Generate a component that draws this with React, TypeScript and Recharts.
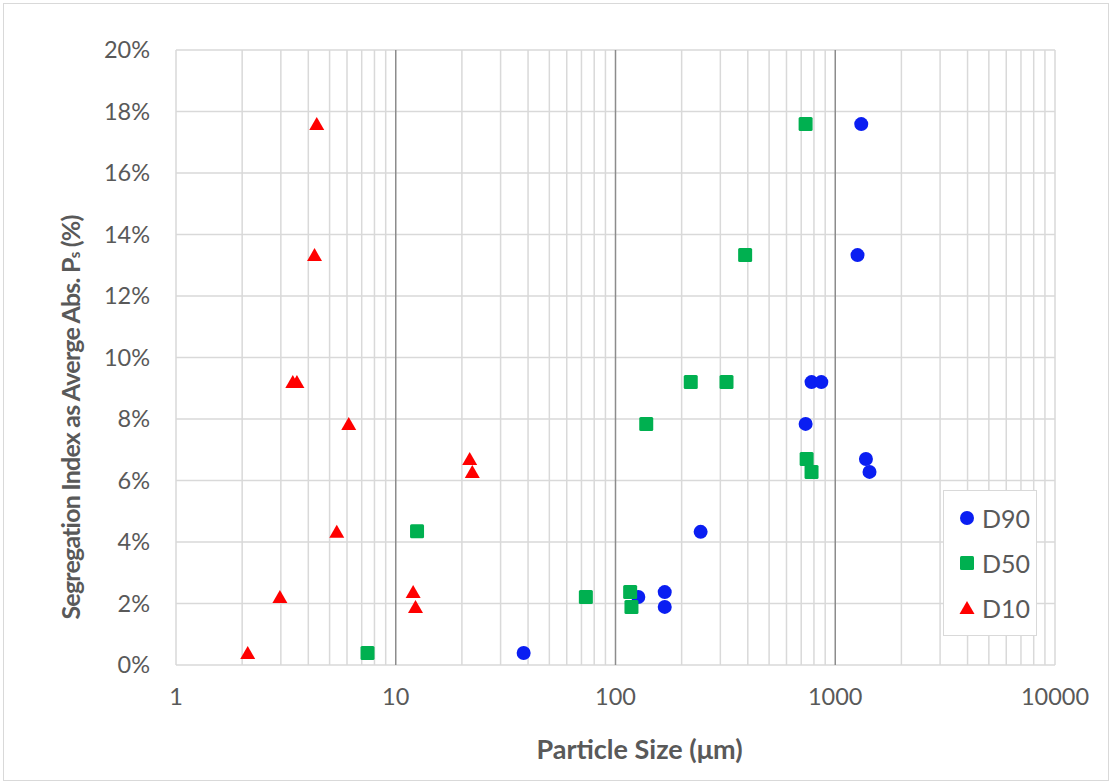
import React from 'react';
import { ScatterChart, Scatter, XAxis, YAxis, CartesianGrid, ReferenceLine, Legend } from 'recharts';

const D90_SIZE = [38.2, 127, 167.5, 167.5, 244, 733, 780, 864, 1263, 1313, 1379, 1432];
const D90_INDEX = [0.39, 2.21, 2.37, 1.89, 4.33, 7.84, 9.2, 9.2, 13.33, 17.59, 6.7, 6.28];
const D50_SIZE = [7.44, 12.5, 73.3, 116.6, 118.2, 138, 220, 320, 389, 733, 741, 780];
const D50_INDEX = [0.39, 4.35, 2.21, 2.37, 1.89, 7.84, 9.2, 9.2, 13.33, 17.59, 6.7, 6.28];
const D10_SIZE = [2.12, 2.97, 3.4, 3.55, 4.27, 4.37, 5.39, 6.11, 12.0, 12.3, 21.7, 22.3];
const D10_INDEX = [0.39, 2.21, 9.2, 9.2, 13.33, 17.59, 4.33, 7.84, 2.37, 1.89, 6.7, 6.28];

const SERIES_NAMES = ['D90', 'D50', 'D10'];
const X_TICKS = [1, 10, 100, 1000, 10000];
const Y_TICKS = [0, 2, 4, 6, 8, 10, 12, 14, 16, 18, 20];
const MINOR_MULT = [2, 3, 4, 5, 6, 7, 8, 9];

const X_TITLE = 'Particle Size (\u03bcm)';
const Y_TITLE_MAIN = 'Segregation Index as Averge Abs. P';
const Y_TITLE_SUB = 's';
const Y_TITLE_END = ' (%)';

const FONT = 'Lato, "Open Sans", sans-serif';
const TEXT = '#595959';
const LIGHT = '#d9d9d9';
const DARK = '#8c8c8c';
const BLUE = '#0a1ef2';
const GREEN = '#00b050';
const RED = '#ff0000';

const toPoints = (xs: number[], ys: number[]) => xs.map((x, i) => ({ x, y: ys[i] }));
const d90 = toPoints(D90_SIZE, D90_INDEX);
const d50 = toPoints(D50_SIZE, D50_INDEX);
const d10 = toPoints(D10_SIZE, D10_INDEX);

const minorX: number[] = [];
X_TICKS.slice(0, -1).forEach((d) => MINOR_MULT.forEach((m) => minorX.push(d * m)));

const Circle = (p: any) => <circle cx={p.cx} cy={p.cy} r={7} fill={BLUE} />;
const Square = (p: any) => <rect x={p.cx - 7} y={p.cy - 7} width={14} height={14} rx={1.5} fill={GREEN} />;
const Triangle = (p: any) => (
  <polygon points={`${p.cx},${p.cy - 7} ${p.cx + 7.5},${p.cy + 6} ${p.cx - 7.5},${p.cy + 6}`} fill={RED} />
);

const markerFor = (name: string) => {
  if (name === 'D90') return <circle cx={8} cy={8} r={7} fill={BLUE} />;
  if (name === 'D50') return <rect x={1} y={1} width={14} height={14} rx={1.5} fill={GREEN} />;
  return <polygon points="8,1 15.5,14 0.5,14" fill={RED} />;
};

const renderLegend = () => (
  <div
    style={{
      width: 94,
      height: 146,
      border: `1.5px solid ${LIGHT}`,
      background: '#fff',
      boxSizing: 'border-box',
      paddingTop: 4,
      fontFamily: FONT,
      fontSize: 25,
      color: TEXT,
    }}
  >
    {SERIES_NAMES.map((n) => (
      <div key={n} style={{ display: 'flex', alignItems: 'center', height: 45, paddingLeft: 15 }}>
        <svg width={16} height={16} style={{ marginRight: 7 }}>
          {markerFor(n)}
        </svg>
        <span>{n}</span>
      </div>
    ))}
  </div>
);

const YTitle = (props: any) => {
  const vb = props.viewBox;
  const cx = vb.x + 70;
  const cy = vb.y + vb.height / 2 + 60;
  return (
    <text
      x={cx}
      y={cy}
      transform={`rotate(-90, ${cx}, ${cy})`}
      textAnchor="middle"
      dominantBaseline="central"
      fontFamily={FONT}
      fontWeight="bold"
      fontSize={25}
      letterSpacing={-0.8}
      fill={TEXT}
    >
      {Y_TITLE_MAIN}
      <tspan fontSize={15} baselineShift="-25%">{Y_TITLE_SUB}</tspan>
      <tspan>{Y_TITLE_END}</tspan>
    </text>
  );
};

const XTitle = (props: any) => {
  const vb = props.viewBox;
  return (
    <text
      x={vb.x + vb.width / 2 + 24}
      y={vb.y + 83}
      textAnchor="middle"
      dominantBaseline="central"
      fontFamily={FONT}
      fontWeight="bold"
      fontSize={27}
      fill={TEXT}
    >
      {X_TITLE}
    </text>
  );
};

export default function App() {
  return (
    <div style={{ position: 'absolute', left: 0, top: 0, width: 1112, height: 784, background: '#fff' }}>
      <ScatterChart width={1112} height={784} margin={{ top: 50, right: 57, bottom: 0, left: 0 }}>
        <CartesianGrid stroke={LIGHT} strokeWidth={1.5} vertical={false} />
        {minorX.map((v) => (
          <ReferenceLine key={`m${v}`} x={v} stroke={LIGHT} strokeWidth={1.5} />
        ))}
        <ReferenceLine x={1} stroke={LIGHT} strokeWidth={1.5} />
        <ReferenceLine x={10000} stroke={LIGHT} strokeWidth={1.5} />
        {X_TICKS.slice(1, -1).map((v) => (
          <ReferenceLine key={`d${v}`} x={v} stroke={DARK} strokeWidth={1.5} />
        ))}
        <XAxis
          dataKey="x"
          type="number"
          scale="log"
          domain={[1, 10000]}
          ticks={X_TICKS}
          allowDataOverflow
          height={119}
          axisLine={false}
          tickLine={false}
          tickSize={0}
          tickMargin={23}
          tick={{ fontFamily: FONT, fontSize: 23.5, fill: TEXT }}
          label={{ content: XTitle }}
        />
        <YAxis
          dataKey="y"
          type="number"
          domain={[0, 20]}
          ticks={Y_TICKS}
          width={176}
          axisLine={false}
          tickLine={false}
          tickSize={0}
          tickMargin={26}
          tickFormatter={(v: number) => `${v}%`}
          tick={{ fontFamily: FONT, fontSize: 23.5, fill: TEXT }}
          label={{ content: YTitle }}
        />
        <Scatter name="D90" data={d90} shape={Circle} isAnimationActive={false} />
        <Scatter name="D50" data={d50} shape={Square} isAnimationActive={false} />
        <Scatter name="D10" data={d10} shape={Triangle} isAnimationActive={false} />
        <Legend
          layout="horizontal"
          verticalAlign="middle"
          align="center"
          content={renderLegend}
          wrapperStyle={{ position: 'absolute', left: 943, top: 490, width: 94, height: 146 }}
        />
      </ScatterChart>
      <div
        style={{
          position: 'absolute',
          left: 3,
          top: 3,
          width: 1106,
          height: 778,
          border: `1.5px solid ${LIGHT}`,
          boxSizing: 'border-box',
          pointerEvents: 'none',
        }}
      />
    </div>
  );
}
